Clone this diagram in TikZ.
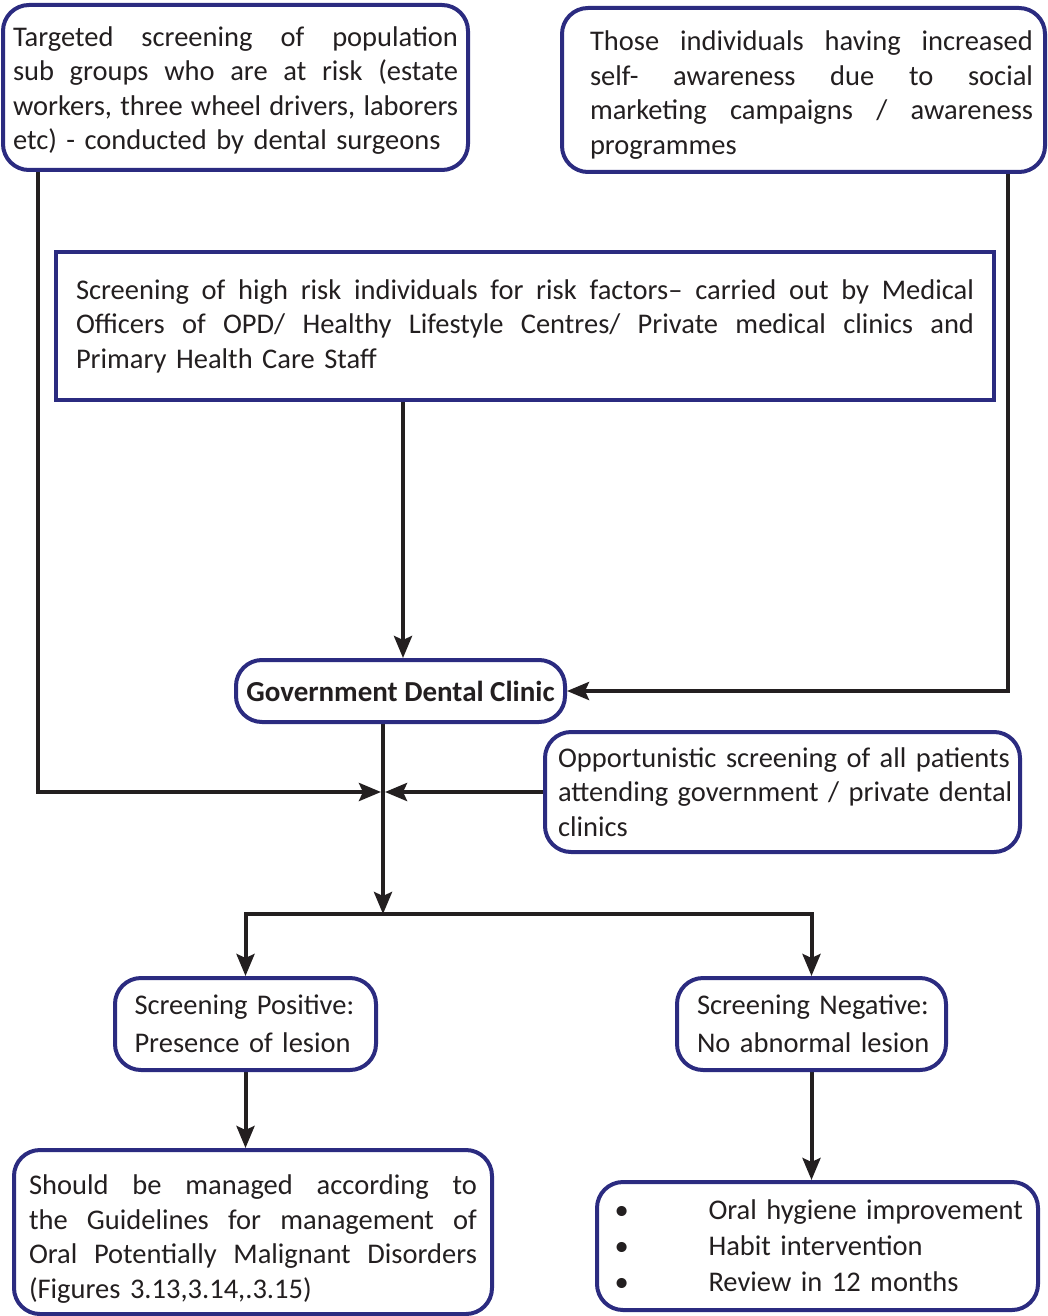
\documentclass[tikz,border=0pt]{standalone}
\usepackage{fontspec}
\setmainfont{Carlito}
\usetikzlibrary{arrows.meta}
\definecolor{boxblue}{RGB}{43,43,128}
\definecolor{ink}{RGB}{35,31,32}
\pgfdeclarelayer{bg}
\pgfsetlayers{bg,main}
% one fully justified line of a given width
\newcommand{\jline}[2]{\makebox[#1][s]{\spaceskip=.25em plus 1fil\relax #2}}
% invisible strut that pushes a text block down inside its box
\newcommand{\topgap}[1]{\rule{0pt}{#1}}
\begin{document}
\begin{tikzpicture}[x=1pt,y=-1pt,
  box/.style={draw=boxblue, line width=4pt, rounded corners=26pt, fill=white,
    inner sep=0pt, text=ink, font=\fontsize{28.5}{34.5}\selectfont},
  plainbox/.style={box, rounded corners=0pt},
  flow/.style={draw=ink, line width=4pt, -{Stealth[length=22pt,width=18pt,inset=4pt]}},
  link/.style={draw=ink, line width=4pt}
]
\useasboundingbox (0,0) rectangle (1048,1316);

% boxes
\node[box, minimum width=465pt, minimum height=165pt, text width=445pt, align=left]
  (tgt) at (235.5,87.5) {%
  \topgap{26pt}\jline{445pt}{Targeted screening of population}\\
  \jline{445pt}{sub groups who are at risk (estate}\\
  \jline{445pt}{workers, three wheel drivers, laborers}\\
  \mbox{etc) - conducted by dental surgeons}};

\node[box, minimum width=483pt, minimum height=164pt, text width=459pt, align=left]
  (aware) at (803.5,90) {%
  \topgap{30pt}\hspace*{16pt}\jline{443pt}{Those individuals having increased}\\
  \hspace*{16pt}\jline{443pt}{self- awareness due to social}\\
  \hspace*{16pt}\jline{443pt}{marketing campaigns / awareness}\\
  \hspace*{16pt}programmes};

\node[plainbox, minimum width=938pt, minimum height=148pt, text width=898pt, align=left]
  (hr) at (525,326) {%
  \jline{898pt}{Screening of high risk individuals for risk factors– carried out by Medical}\\
  \jline{898pt}{Officers of OPD/ Healthy Lifestyle Centres/ Private medical clinics and}\\
  \mbox{Primary Health Care Staff}};

\node[box, minimum width=329pt, minimum height=62pt, font=\fontsize{29}{34.5}\selectfont\bfseries]
  (gdc) at (400.5,691) {Government Dental Clinic};

\node[box, minimum width=475pt, minimum height=120pt, text width=449pt, align=left]
  (opp) at (782.5,792) {%
  \mbox{Opportunistic screening of all patients}\\
  \mbox{attending government / private dental}\\
  clinics};

\node[box, minimum width=261pt, minimum height=92pt, text width=222pt, align=left,
  font=\fontsize{28.5}{38}\selectfont]
  (pos) at (245.5,1024) {\mbox{Screening Positive:}\\ \mbox{Presence of lesion}};

\node[box, minimum width=269pt, minimum height=92pt, text width=229pt, align=left,
  font=\fontsize{28.5}{38}\selectfont]
  (neg) at (811.5,1024) {\mbox{Screening Negative:}\\ \mbox{No abnormal lesion}};

\node[box, minimum width=478pt, minimum height=164pt, text width=448pt, align=left]
  (mgd) at (253,1232) {%
  \topgap{34pt}\jline{448pt}{Should be managed according to}\\
  \jline{448pt}{the Guidelines for management of}\\
  \jline{448pt}{Oral Potentially Malignant Disorders}\\
  \mbox{(Figures 3.13,3.14,.3.15)}};

\node[box, minimum width=441pt, minimum height=128pt, text width=406pt, align=left,
  font=\fontsize{28.5}{36}\selectfont]
  (bul) at (817.5,1246) {%
  \makebox[94pt][l]{\textbullet}\mbox{Oral hygiene improvement}\\
  \makebox[94pt][l]{\textbullet}\mbox{Habit intervention}\\
  \makebox[94pt][l]{\textbullet}\mbox{Review in 12 months}};

% junction points of the connectors
\coordinate (lx) at (38,0);
\coordinate (rx) at (1008,0);
\coordinate (mx) at (403,0);
\coordinate (merge) at (383,792);
\coordinate (split) at (383,914);

% connectors
\begin{pgfonlayer}{bg}
\draw[flow] (tgt.south -| lx) |- ([xshift=-2pt]merge);
\draw[flow] (aware.south -| rx) |- (gdc.east);
\draw[flow] (hr.south -| mx) -- (gdc.north -| mx);
\draw[flow] (opp.west |- merge) -- ([xshift=2pt]merge);
\draw[flow] (gdc.south -| merge) -- (split);
\draw[flow] (split) -| (pos.north);
\draw[flow] (split) -| (neg.north);
\draw[flow] (pos.south) -- (pos.south |- mgd.north);
\draw[flow] (neg.south) -- (neg.south |- bul.north);
\end{pgfonlayer}
\end{tikzpicture}
\end{document}
